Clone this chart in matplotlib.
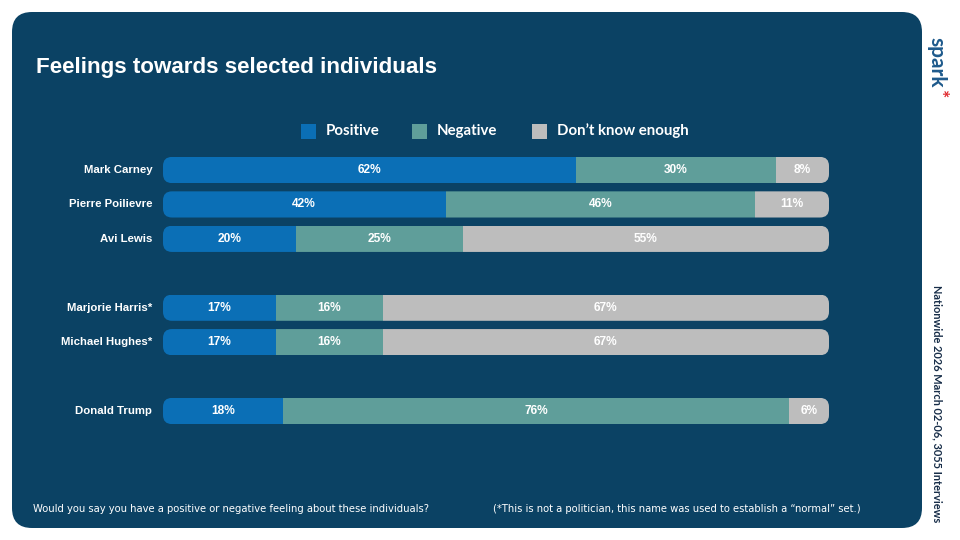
import numpy as np
import matplotlib.pyplot as plt
from matplotlib.patches import FancyBboxPatch, Rectangle


names = ['Mark Carney', 'Pierre Poilievre', 'Avi Lewis',
         'Marjorie Harris*', 'Michael Hughes*', 'Donald Trump']
rows = np.array([0, 1, 2, 4, 5, 7])
positive = np.array([62, 42, 20, 17, 17, 18])
negative = np.array([30, 46, 25, 16, 16, 76])
dont_know = np.array([8, 11, 55, 67, 67, 6])

series = ['Positive', 'Negative', 'Don\u2019t know enough']
colors = ['#0b6fb6', '#5f9e9a', '#bdbdbd']

panel_color = '#0b4264'
W, H = 960, 540

fig = plt.figure(figsize=(9.6, 5.4), dpi=100)
fig.patch.set_facecolor('white')

# dark rounded panel
r = 20
panel = FancyBboxPatch((12 / W, 1 - 528 / H), (922 - 12) / W, (528 - 12) / H,
                       boxstyle=f"round,pad=0,rounding_size={r / W}",
                       mutation_aspect=W / H,
                       transform=fig.transFigure, facecolor=panel_color,
                       edgecolor='none', zorder=0)
fig.add_artist(panel)

# bar axes
x0, x1 = 163, 829
step = (411 - 170) / 7
top = 170 - step / 2
bot = 411 + step / 2
ax = fig.add_axes([x0 / W, 1 - bot / H, (x1 - x0) / W, (bot - top) / H])
ax.set_xlim(0, 100)
ax.set_ylim(7.5, -0.5)
ax.set_facecolor('none')
ax.axis('off')

bh = 0.76
totals = positive + negative + dont_know
vals = [positive, negative, dont_know]
rad_px = 9
px_x = (x1 - x0) / 100.0
px_y = step
for i, y in enumerate(rows):
    clip = FancyBboxPatch((0, y - bh / 2), 100, bh,
                          boxstyle=f"round,pad=0,rounding_size={rad_px / px_x}",
                          mutation_aspect=px_x / px_y,
                          transform=ax.transData, facecolor='none',
                          edgecolor='none')
    ax.add_patch(clip)
    left = 0.0
    for k in range(3):
        w = vals[k][i] / totals[i] * 100
        b = ax.barh(y, w, left=left, height=bh, color=colors[k],
                    edgecolor='none')
        for p in b:
            p.set_clip_path(clip)
        ax.text(left + w / 2, y, f'{vals[k][i]}%', ha='center', va='center',
                color='white', fontsize=8.6, fontweight='bold',
                family='Liberation Sans')
        left += w
    ax.text(-1.6, y, names[i], ha='right', va='center', color='white',
            fontsize=8.2, fontweight='bold', family='Liberation Sans')

# title
fig.text(36 / W, 1 - 67 / H, 'Feelings towards selected individuals',
         ha='left', va='center', color='white', fontsize=16.1,
         fontweight='bold', family='Liberation Sans')

# legend
leg_x = [301, 412, 532]
for k in range(3):
    fig.add_artist(Rectangle((leg_x[k] / W, 1 - 139 / H), 15 / W, 15 / H,
                             transform=fig.transFigure, facecolor=colors[k],
                             edgecolor='none'))
    fig.text((leg_x[k] + 25) / W, 1 - 131 / H, series[k], ha='left',
             va='center', color='white', fontsize=10.8, fontweight='bold',
             family='Lato')

# footnotes
fig.text(33 / W, 1 - 509 / H,
         'Would you say you have a positive or negative feeling about these individuals?',
         ha='left', va='center', color='white', fontsize=7.2,
         family='DejaVu Sans')
fig.text(493 / W, 1 - 509 / H,
         '(*This is not a politician, this name was used to establish a \u201cnormal\u201d set.)',
         ha='left', va='center', color='white', fontsize=7.2,
         family='DejaVu Sans')

# side text
fig.text(937 / W, 1 - 404 / H, 'Nationwide 2026 March 02-06, 3055 Interviews',
         ha='center', va='center', rotation=-90, color='#172d48',
         fontsize=7.9, fontweight='bold', family='Lato')

# logo
fig.text(936 / W, 1 - 37 / H, 'spark', ha='center', va='top', rotation=-90,
         color='#1e5a8c', fontsize=15, fontweight='bold', family='Lato')
fig.text(939 / W, 1 - 94 / H, '*', ha='center', va='center', rotation=-90,
         color='#e0262b', fontsize=14, fontweight='bold', family='Lato')

fig.savefig('out.png', dpi=100, facecolor=fig.get_facecolor())
